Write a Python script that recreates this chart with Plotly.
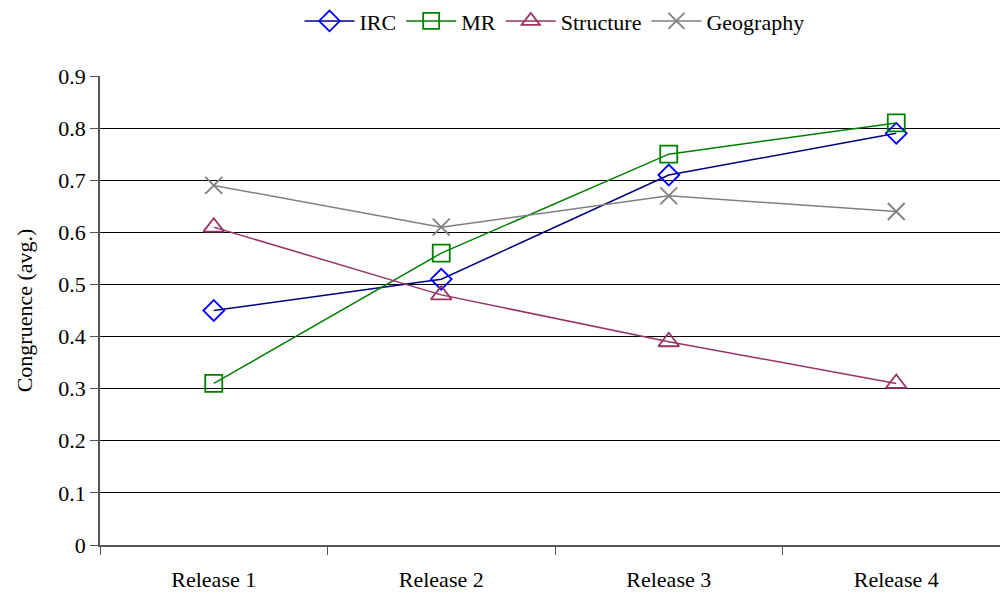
import plotly.graph_objects as go

categories = ["Release 1", "Release 2", "Release 3", "Release 4"]
irc = [0.45, 0.51, 0.71, 0.79]
mr = [0.31, 0.56, 0.75, 0.81]
structure = [0.61, 0.48, 0.39, 0.31]
geography = [0.69, 0.61, 0.67, 0.64]
y_ticks = [0, 0.1, 0.2, 0.3, 0.4, 0.5, 0.6, 0.7, 0.8, 0.9]
y_tick_labels = ["0", "0.1", "0.2", "0.3", "0.4", "0.5", "0.6", "0.7", "0.8", "0.9"]

FONT = "Liberation Serif"
FS = 22

fig = go.Figure()
fig.add_trace(go.Scatter(
    x=categories, y=irc, name="IRC", mode="lines+markers",
    line=dict(color="#000080", width=1.5),
    marker=dict(symbol="diamond-open", size=16, color="#0000FF", line=dict(width=1.8, color="#0000FF")),
))
fig.add_trace(go.Scatter(
    x=categories, y=mr, name="MR", mode="lines+markers",
    line=dict(color="#008000", width=1.5),
    marker=dict(symbol="square-open", size=17, color="#008000", line=dict(width=1.8, color="#008000")),
))
fig.add_trace(go.Scatter(
    x=categories, y=structure, name="Structure", mode="lines+markers",
    line=dict(color="#993366", width=1.5),
    marker=dict(symbol="triangle-up-open", size=18, color="#993366", line=dict(width=1.8, color="#993366")),
))
fig.add_trace(go.Scatter(
    x=categories, y=geography, name="Geography", mode="lines+markers",
    line=dict(color="#808080", width=1.5),
    marker=dict(symbol="x-thin-open", size=17, color="#808080", line=dict(width=1.8, color="#808080")),
))

fig.update_layout(
    width=1000, height=595,
    margin=dict(l=100, r=0, t=76, b=50),
    paper_bgcolor="white", plot_bgcolor="white",
    font=dict(family=FONT, size=FS, color="black"),
    showlegend=True,
    legend=dict(
        orientation="h", x=0.505, xanchor="center", y=1.117, yanchor="middle",
        font=dict(family=FONT, size=FS, color="black"),
        itemwidth=50, tracegroupgap=0,
    ),
    xaxis=dict(
        type="category", range=[-0.5, 3.456],
        tickson="boundaries", ticks="outside", ticklen=8, tickcolor="#555555",
        showline=True, linecolor="#555555", linewidth=1.5,
        showgrid=False, zeroline=False,
        tickfont=dict(family=FONT, size=FS), ticklabelstandoff=14,
    ),
    yaxis=dict(
        range=[0, 0.9], tickvals=y_ticks, ticktext=y_tick_labels,
        ticks="outside", ticklen=8, tickcolor="#555555",
        showline=True, linecolor="#555555", linewidth=1.5,
        showgrid=True, gridcolor="#000000", gridwidth=1,
        zeroline=False,
        tickfont=dict(family=FONT, size=FS),
        title=dict(text="Congruence (avg.)", font=dict(family=FONT, size=FS), standoff=20),
        automargin=False,
    ),
)

fig.write_html("out.html")
